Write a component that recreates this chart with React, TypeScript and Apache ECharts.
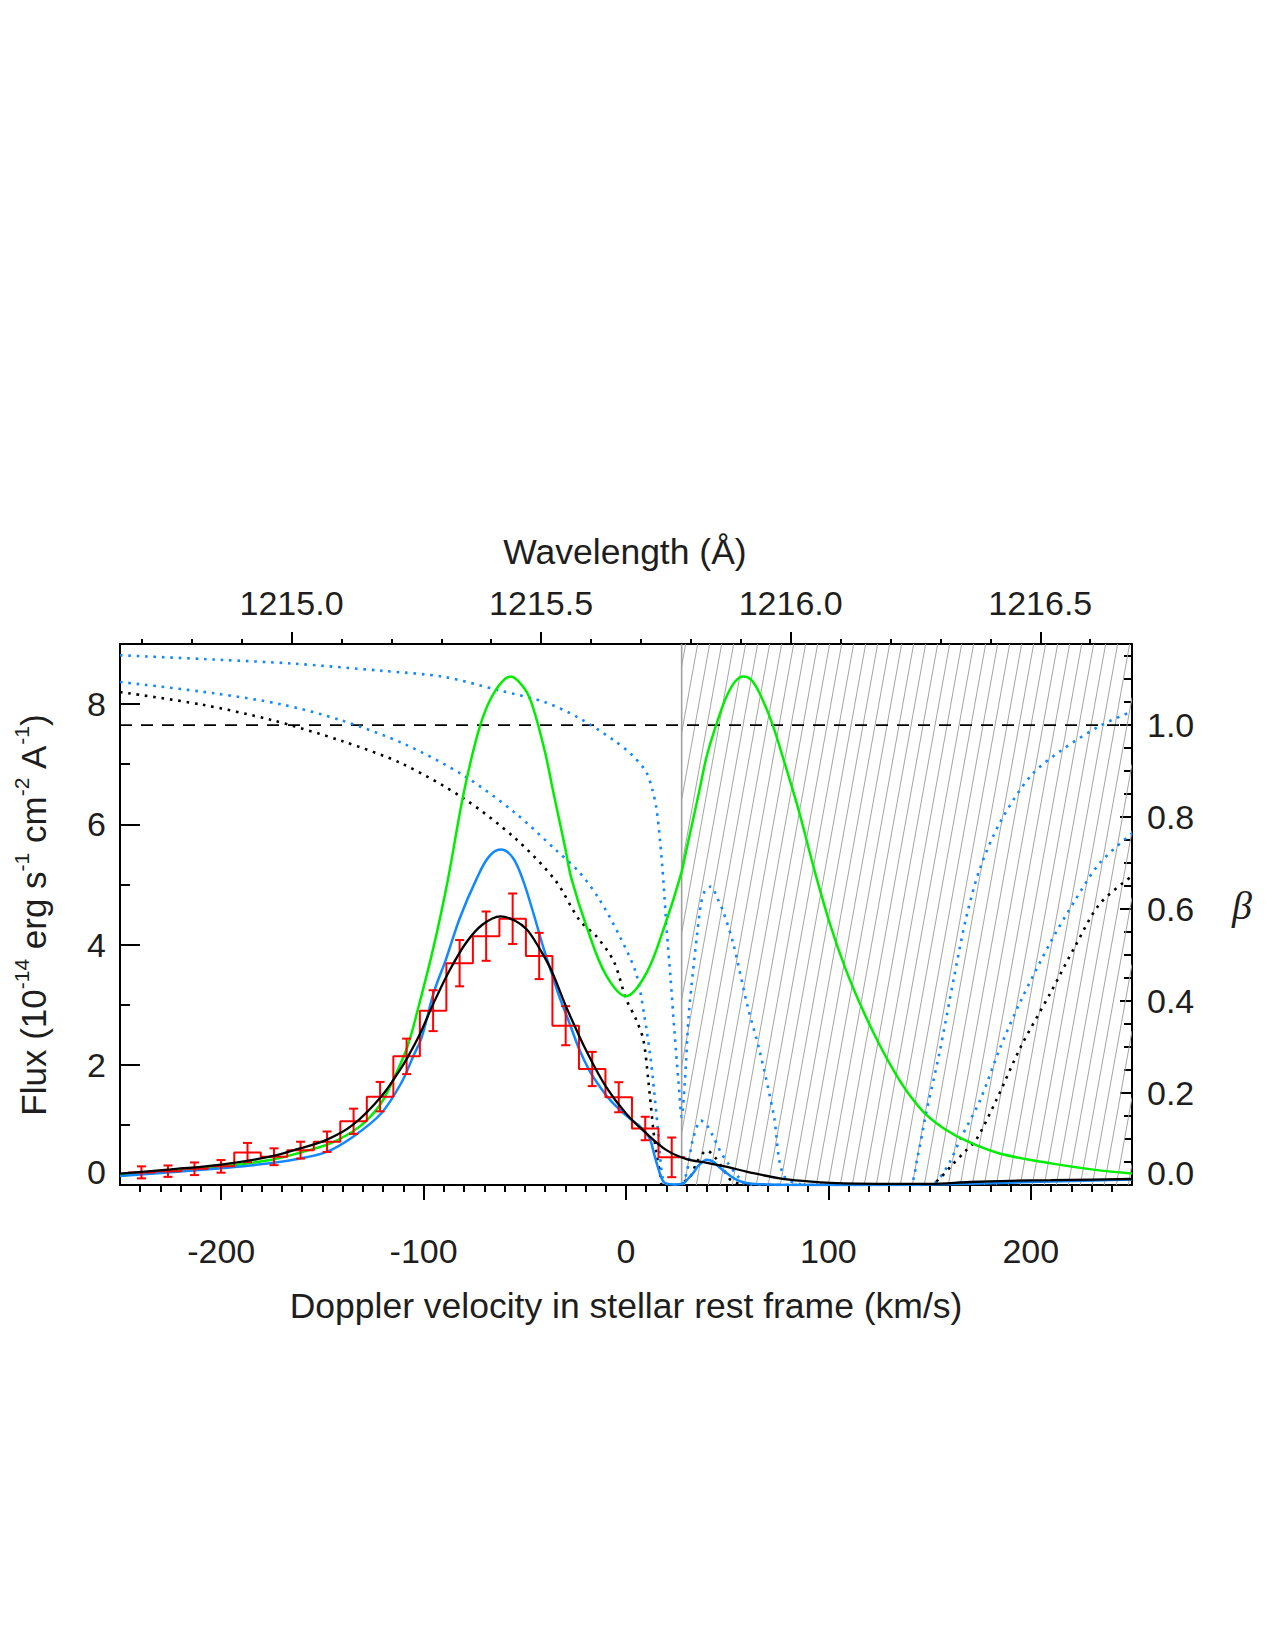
import React, { useEffect, useRef } from "react";
import * as echarts from "echarts";

// ---------- axis ranges & ticks ----------
const V_MIN = -250;
const V_MAX = 250;
const FLUX_MIN = 0;
const FLUX_MAX = 9;
const BETA_MIN = 0;
const BETA_MAX = 1.1765;
const LAMBDA_MIN = 1214.6563;
const LAMBDA_MAX = 1216.6838;

const V_MAJOR = [-200, -100, 0, 100, 200];
const V_MINOR = [-240, -230, -220, -210, -190, -180, -170, -160, -150, -140, -130, -120, -110, -90, -80, -70, -60, -50, -40, -30, -20, -10, 10, 20, 30, 40, 50, 60, 70, 80, 90, 110, 120, 130, 140, 150, 160, 170, 180, 190, 210, 220, 230, 240];
const LAMBDA_MAJOR = [1215.0, 1215.5, 1216.0, 1216.5];
const LAMBDA_MINOR = [1214.7, 1214.8, 1214.9, 1215.1, 1215.2, 1215.3, 1215.4, 1215.6, 1215.7, 1215.8, 1215.9, 1216.1, 1216.2, 1216.3, 1216.4, 1216.6];
const FLUX_MAJOR = [0, 2, 4, 6, 8];
const FLUX_MINOR = [1, 3, 5, 7];
const BETA_MAJOR = [0, 0.2, 0.4, 0.6, 0.8, 1.0];
const BETA_MINOR = [0.05, 0.1, 0.15, 0.25, 0.3, 0.35, 0.45, 0.5, 0.55, 0.65, 0.7, 0.75, 0.85, 0.9, 0.95, 1.05, 1.1, 1.15];

// ---------- observed spectrum (histogram + errors) ----------
const BIN_CENTERS = [-239.4, -226.3, -213.2, -200.1, -187.0, -173.9, -160.8, -147.7, -134.6, -121.5, -108.4, -95.3, -82.2, -69.1, -56.0, -42.9, -29.8, -16.7, -3.6, 9.5, 22.6];
const BIN_WIDTH = 13.1;
const OBS_FLUX = [0.21, 0.23, 0.27, 0.31, 0.54, 0.47, 0.58, 0.72, 1.06, 1.47, 2.14, 2.9, 3.69, 4.14, 4.43, 3.81, 2.65, 1.93, 1.46, 0.94, 0.46];
const OBS_ERR = [0.1, 0.095, 0.105, 0.105, 0.16, 0.14, 0.14, 0.17, 0.21, 0.245, 0.295, 0.34, 0.385, 0.41, 0.42, 0.385, 0.325, 0.285, 0.25, 0.195, 0.33];

// ---------- intrinsic profile (green) ----------
const GREEN_V = [-250, -225, -200, -175, -160, -147, -135, -128, -121, -115, -108, -103, -95, -88, -80, -72, -65, -57, -50, -46, -40, -36, -30, -27, -19, -10, 0, 10, 19, 27, 30, 36, 40, 46, 50, 54, 58, 62, 66, 72, 79, 86, 93, 101, 109, 117, 125, 133, 140, 148, 158, 169, 185, 210, 230, 250];
const GREEN_F = [0.18, 0.24, 0.31, 0.42, 0.55, 0.68, 0.89, 1.08, 1.36, 1.75, 2.3, 2.9, 3.97, 5.08, 6.55, 7.65, 8.2, 8.46, 8.25, 7.95, 7.2, 6.55, 5.6, 5.1, 4.25, 3.5, 3.14, 3.52, 4.3, 5.15, 5.6, 6.52, 7.15, 7.8, 8.15, 8.38, 8.46, 8.4, 8.18, 7.7, 6.95, 6.15, 5.25, 4.32, 3.55, 2.91, 2.35, 1.86, 1.5, 1.18, 0.92, 0.72, 0.52, 0.36, 0.26, 0.19];

// ---------- absorbed profile (blue) ----------
const BLUE_V = [-250, -225, -200, -176, -161, -148, -135, -121, -111, -105, -101, -95, -89, -82, -74, -68, -62, -56, -51, -46, -41, -37, -33, -28, -23, -18, -13, -8, -3, 2, 7, 10, 12, 14, 16, 18, 20, 24, 28, 30, 33, 36, 40, 43, 46, 50, 55, 60, 70, 90, 120, 150, 180, 210, 250];
const BLUE_F = [0.15, 0.21, 0.28, 0.36, 0.44, 0.55, 0.8, 1.19, 1.7, 2.15, 2.45, 3.2, 3.75, 4.45, 5.08, 5.45, 5.58, 5.45, 5.08, 4.55, 3.97, 3.55, 3.14, 2.7, 2.25, 1.9, 1.64, 1.42, 1.25, 1.1, 0.97, 0.86, 0.75, 0.5, 0.27, 0.08, 0.02, 0.01, 0.02, 0.08, 0.19, 0.33, 0.42, 0.39, 0.3, 0.19, 0.08, 0.03, 0.01, 0.0, 0.0, 0.01, 0.03, 0.06, 0.09];

// ---------- convolved model (black) ----------
const BLACK_V = [-250, -225, -200, -176, -161, -148, -135, -121, -112, -108, -102, -95, -87, -79, -71, -62, -55, -49, -43, -37, -29, -19, -10, 0, 10, 20, 30, 40, 50, 60, 76, 90, 101, 125, 150, 170, 190, 210, 230, 250];
const BLACK_F = [0.19, 0.26, 0.34, 0.47, 0.61, 0.75, 1.0, 1.47, 1.9, 2.12, 2.5, 3.03, 3.58, 4.03, 4.33, 4.47, 4.4, 4.25, 3.95, 3.58, 2.92, 2.19, 1.64, 1.19, 0.86, 0.58, 0.43, 0.37, 0.3, 0.22, 0.11, 0.06, 0.035, 0.02, 0.02, 0.05, 0.07, 0.08, 0.09, 0.1];

// ---------- beta profiles (dotted, right axis) ----------
const BETA_HI_V = [-250, -200, -165, -120, -90, -63, -40, -23, -6, 3, 10, 13, 15, 17, 18.5, 20, 22, 24, 26, 27.5, 29, 31, 33, 35, 37, 39, 42, 45, 48, 53, 60, 66, 73, 78, 90, 110, 130, 140, 144, 148, 155, 162, 168, 175, 185, 200, 215, 234, 250];
const BETA_HI = [1.152, 1.142, 1.134, 1.118, 1.105, 1.076, 1.05, 1.015, 0.967, 0.935, 0.898, 0.86, 0.82, 0.74, 0.66, 0.56, 0.45, 0.33, 0.22, 0.148, 0.22, 0.37, 0.46, 0.54, 0.61, 0.64, 0.649, 0.625, 0.595, 0.525, 0.39, 0.292, 0.152, 0.02, 0, 0, 0, 0, 0.06, 0.15, 0.29, 0.45, 0.58, 0.69, 0.79, 0.89, 0.945, 0.998, 1.03];

const BETA_LO_V = [-250, -203, -170, -141, -110, -80, -55, -35, -23, -13, -3, 5, 9, 12, 14, 16, 18.4, 22, 27, 30, 33, 37, 40, 43, 47, 50, 55, 60, 80, 120, 150, 154, 160, 165, 175, 185, 195, 210, 222, 234, 250];
const BETA_LO = [1.094, 1.069, 1.045, 1.011, 0.96, 0.89, 0.81, 0.73, 0.68, 0.62, 0.54, 0.46, 0.37, 0.28, 0.2, 0.11, 0.01, 0, 0, 0.028, 0.098, 0.14, 0.13, 0.106, 0.07, 0.05, 0.02, 0, 0, 0, 0, 0.01, 0.05, 0.098, 0.185, 0.3, 0.4, 0.53, 0.62, 0.7, 0.765];

const BETA_BK_V = [-250, -210, -175, -140, -110, -80, -55, -35, -23, -14.5, -6, 0, 5, 8.6, 11, 13.5, 15, 16.8, 18, 25, 32, 35, 40, 44, 48, 52, 60, 100, 150, 154, 161, 168, 173, 183, 195, 210, 222, 234, 250];
const BETA_BK = [1.072, 1.045, 1.011, 0.965, 0.915, 0.84, 0.755, 0.663, 0.576, 0.54, 0.486, 0.405, 0.36, 0.315, 0.228, 0.12, 0.07, 0.025, 0, 0, 0.02, 0.05, 0.075, 0.06, 0.035, 0.01, 0, 0, 0, 0.01, 0.043, 0.075, 0.098, 0.185, 0.3, 0.42, 0.52, 0.611, 0.672];

const BETA_REF = 1.0;
const HATCH_RANGE = [27.5, 250];

// ---------- style constants ----------
const FONT = "'Liberation Sans', Arial, Helvetica, sans-serif";
const TXT = "#1e1e1e";
const GREEN = "#00ee00";
const BLUE = "#1188ff";
const RED = "#ff0000";
const HATCH_SPACING = 12;
const HATCH_SLOPE = 0.18;

const zip = (xs: number[], ys: number[]) => xs.map((x, i) => [x, ys[i]]);

export default function App() {
  const ref = useRef<HTMLDivElement>(null);

  useEffect(() => {
    if (!ref.current) return;
    const chart = echarts.init(ref.current, null, { renderer: "svg" });

    // histogram steps from bin edges
    const histData: number[][] = BIN_CENTERS.map((c, i) => [c - BIN_WIDTH / 2, OBS_FLUX[i]]);
    histData.push([BIN_CENTERS[BIN_CENTERS.length - 1] + BIN_WIDTH / 2, OBS_FLUX[OBS_FLUX.length - 1]]);
    const errData = BIN_CENTERS.map((c, i) => [c, OBS_FLUX[i] - OBS_ERR[i], OBS_FLUX[i] + OBS_ERR[i]]);

    const labelBase = { fontSize: 34, fontFamily: FONT, color: TXT };
    const axisLineStyle = { color: "#000", width: 2 };

    const option: any = {
      animation: false,
      backgroundColor: "#fff",
      grid: { left: 112, top: 636, width: 1012, height: 541, containLabel: false, outerBoundsMode: "none" },
      xAxis: [
        {
          type: "value", position: "bottom", min: V_MIN, max: V_MAX,
          axisLine: { show: true, onZero: false, lineStyle: axisLineStyle },
          axisTick: { show: true, inside: false, length: 15, customValues: V_MAJOR, lineStyle: { color: "#000", width: 2 } },
          axisLabel: { show: true, customValues: V_MAJOR, margin: 49, ...labelBase },
          splitLine: { show: false },
        },
        {
          type: "value", position: "top", min: LAMBDA_MIN, max: LAMBDA_MAX,
          axisLine: { show: true, onZero: false, lineStyle: axisLineStyle },
          axisTick: { show: true, inside: false, length: 12, customValues: LAMBDA_MAJOR, lineStyle: { color: "#000", width: 2 } },
          axisLabel: { show: true, customValues: LAMBDA_MAJOR, margin: 24, formatter: (v: number) => v.toFixed(1), ...labelBase },
          splitLine: { show: false },
        },
        {
          type: "value", position: "bottom", min: V_MIN, max: V_MAX,
          axisLine: { show: false, onZero: false },
          axisTick: { show: true, inside: false, length: 7, customValues: V_MINOR, lineStyle: { color: "#000", width: 2 } },
          axisLabel: { show: false },
          splitLine: { show: false },
        },
        {
          type: "value", position: "top", min: LAMBDA_MIN, max: LAMBDA_MAX,
          axisLine: { show: false, onZero: false },
          axisTick: { show: true, inside: false, length: 5, customValues: LAMBDA_MINOR, lineStyle: { color: "#000", width: 2 } },
          axisLabel: { show: false },
          splitLine: { show: false },
        },
      ],
      yAxis: [
        {
          type: "value", position: "left", min: FLUX_MIN, max: FLUX_MAX,
          axisLine: { show: true, onZero: false, lineStyle: axisLineStyle },
          axisTick: { show: true, inside: true, length: 20, customValues: FLUX_MAJOR, lineStyle: { color: "#000", width: 2 } },
          axisLabel: {
            show: true, customValues: FLUX_MAJOR, margin: 14, ...labelBase,
            formatter: (v: number) => (v === 0 ? "{z|0}" : String(v)),
            rich: { z: { ...labelBase, padding: [0, 0, 26, 0] } },
          },
          splitLine: { show: false },
        },
        {
          type: "value", position: "right", min: BETA_MIN, max: BETA_MAX,
          axisLine: { show: true, onZero: false, lineStyle: axisLineStyle },
          axisTick: { show: true, inside: true, length: 12, customValues: BETA_MAJOR, lineStyle: { color: "#000", width: 2 } },
          axisLabel: {
            show: true, customValues: BETA_MAJOR, margin: 15, ...labelBase,
            formatter: (v: number) => (v === 0 ? "{z|0.0}" : v.toFixed(1)),
            rich: { z: { ...labelBase, padding: [0, 0, 24, 0] } },
          },
          splitLine: { show: false },
        },
        {
          type: "value", position: "left", min: FLUX_MIN, max: FLUX_MAX,
          axisLine: { show: false, onZero: false },
          axisTick: { show: true, inside: true, length: 10, customValues: FLUX_MINOR, lineStyle: { color: "#000", width: 2 } },
          axisLabel: { show: false },
          splitLine: { show: false },
        },
        {
          type: "value", position: "right", min: BETA_MIN, max: BETA_MAX,
          axisLine: { show: false, onZero: false },
          axisTick: { show: true, inside: true, length: 8, customValues: BETA_MINOR, lineStyle: { color: "#000", width: 2 } },
          axisLabel: { show: false },
          splitLine: { show: false },
        },
      ],
      series: [
        {
          type: "custom", name: "hatch", xAxisIndex: 0, yAxisIndex: 0, z: 1, silent: true, clip: true,
          data: [HATCH_RANGE],
          encode: { x: [0, 1] },
          renderItem: (params: any, api: any) => {
            const tl = api.coord([api.value(0), FLUX_MAX]);
            const br = api.coord([api.value(1), FLUX_MIN]);
            const left = tl[0], top = tl[1], right = br[0], bottom = br[1];
            const h = bottom - top;
            const dx = HATCH_SLOPE * h;
            const children: any[] = [];
            for (let xb = left - dx + 4; xb <= right; xb += HATCH_SPACING) {
              let x1 = xb, y1 = bottom, x2 = xb + dx, y2 = top;
              if (x1 < left) { const t = (left - xb) / dx; x1 = left; y1 = bottom - t * h; }
              if (x2 > right) { const t = (right - xb) / dx; x2 = right; y2 = bottom - t * h; }
              if (x2 <= x1) continue;
              children.push({ type: "line", shape: { x1, y1, x2, y2 }, style: { stroke: "#a4a4a4", lineWidth: 1 } });
            }
            children.push({ type: "line", shape: { x1: left, y1: top, x2: left, y2: bottom }, style: { stroke: "#a0a0a0", lineWidth: 1.6 } });
            return { type: "group", children };
          },
        },
        {
          type: "line", name: "beta=1", xAxisIndex: 0, yAxisIndex: 1, z: 2, showSymbol: false,
          data: [[V_MIN, BETA_REF], [V_MAX, BETA_REF]],
          lineStyle: { color: "#000", width: 1.8, type: [12, 9] },
        },
        {
          type: "line", name: "beta hi", xAxisIndex: 0, yAxisIndex: 1, z: 3, showSymbol: false, smooth: 0.3,
          data: zip(BETA_HI_V, BETA_HI),
          lineStyle: { color: BLUE, width: 2.6, type: [2.6, 5.8] },
        },
        {
          type: "line", name: "beta lo", xAxisIndex: 0, yAxisIndex: 1, z: 3, showSymbol: false, smooth: 0.3,
          data: zip(BETA_LO_V, BETA_LO),
          lineStyle: { color: BLUE, width: 2.6, type: [2.6, 5.8] },
        },
        {
          type: "line", name: "beta black", xAxisIndex: 0, yAxisIndex: 1, z: 3, showSymbol: false, smooth: 0.3,
          data: zip(BETA_BK_V, BETA_BK),
          lineStyle: { color: "#000", width: 2.6, type: [2.6, 5.8] },
        },
        {
          type: "line", name: "intrinsic", xAxisIndex: 0, yAxisIndex: 0, z: 4, showSymbol: false, smooth: 0.35,
          data: zip(GREEN_V, GREEN_F),
          lineStyle: { color: GREEN, width: 2.5 },
        },
        {
          type: "line", name: "absorbed", xAxisIndex: 0, yAxisIndex: 0, z: 5, showSymbol: false, smooth: 0.35,
          data: zip(BLUE_V, BLUE_F),
          lineStyle: { color: BLUE, width: 2.5 },
        },
        {
          type: "line", name: "observed", xAxisIndex: 0, yAxisIndex: 0, z: 6, showSymbol: false, step: "end",
          data: histData,
          lineStyle: { color: RED, width: 2 },
        },
        {
          type: "custom", name: "errors", xAxisIndex: 0, yAxisIndex: 0, z: 7, silent: true,
          data: errData,
          encode: { x: 0, y: [1, 2] },
          renderItem: (params: any, api: any) => {
            const x = api.value(0);
            const pLo = api.coord([x, api.value(1)]);
            const pHi = api.coord([x, api.value(2)]);
            const cw = 4.5;
            const st = { stroke: RED, lineWidth: 2 };
            return {
              type: "group",
              children: [
                { type: "line", shape: { x1: pLo[0], y1: pLo[1], x2: pHi[0], y2: pHi[1] }, style: st },
                { type: "line", shape: { x1: pLo[0] - cw, y1: pLo[1], x2: pLo[0] + cw, y2: pLo[1] }, style: st },
                { type: "line", shape: { x1: pHi[0] - cw, y1: pHi[1], x2: pHi[0] + cw, y2: pHi[1] }, style: st },
              ],
            };
          },
        },
        {
          type: "line", name: "model", xAxisIndex: 0, yAxisIndex: 0, z: 8, showSymbol: false, smooth: 0.35,
          data: zip(BLACK_V, BLACK_F),
          lineStyle: { color: "#000", width: 2.3 },
        },
      ],
      graphic: [
        {
          type: "text", x: 617, y: 544,
          style: { text: "Wavelength (Å)", fontSize: 35.5, fontFamily: FONT, fill: TXT, align: "center", verticalAlign: "middle" },
        },
        {
          type: "text", x: 618, y: 1298,
          style: { text: "Doppler velocity in stellar rest frame (km/s)", fontSize: 35.5, fontFamily: FONT, fill: TXT, align: "center", verticalAlign: "middle" },
        },
        {
          type: "text", x: 25, y: 907, rotation: Math.PI / 2,
          style: {
            text: "{n|Flux (10}{s|-14}{n| erg s}{s|-1}{n| cm}{s|-2}{n| A}{s|-1}{n|)}",
            align: "center", verticalAlign: "middle", fontSize: 35, fontFamily: FONT, fill: TXT,
            rich: {
              n: { fontSize: 35, fontFamily: FONT, fill: TXT, lineHeight: 44 },
              s: { fontSize: 21, fontFamily: FONT, fill: TXT, lineHeight: 21, verticalAlign: "top" },
            },
          },
        },
        {
          type: "text", x: 1234, y: 897,
          style: { text: "β", fontSize: 40, fontStyle: "italic", fontFamily: "'Liberation Serif', 'DejaVu Serif', serif", fill: TXT, align: "center", verticalAlign: "middle" },
        },
      ],
    };

    chart.setOption(option);
    return () => chart.dispose();
  }, []);

  return <div ref={ref} style={{ width: 1259, height: 1634 }} />;
}
